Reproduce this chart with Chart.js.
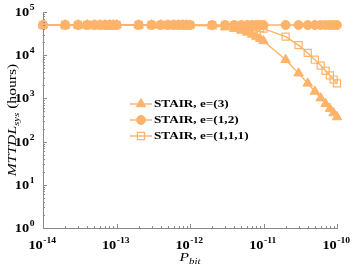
<!DOCTYPE html>
<html>
<head>
<meta charset="utf-8">
<script src="https://cdn.jsdelivr.net/npm/chart.js@4.4.1/dist/chart.umd.min.js"></script>
<style>
  html, body { margin: 0; padding: 0; background: #fff; }
  #wrap { width: 353px; height: 267px; }
</style>
</head>
<body>
<div id="wrap"><canvas id="mttdl" width="353" height="267"></canvas></div>
<script>
// P_bit values (x)
const pBit = [
  1e-14, 2e-14, 3e-14, 4e-14, 5e-14, 6e-14, 7e-14, 8e-14, 9e-14,
  1e-13, 2e-13, 3e-13, 4e-13, 5e-13, 6e-13, 7e-13, 8e-13, 9e-13,
  1e-12, 2e-12, 3e-12, 4e-12, 5e-12, 6e-12, 7e-12, 8e-12, 9e-12,
  1e-11, 2e-11, 3e-11, 4e-11, 5e-11, 6e-11, 7e-11, 8e-11, 9e-11,
  1e-10
];
// MTTDL_sys in hours
const stairE3 = [
  50000, 50000, 50000, 50000, 50000, 50000, 50000, 50000, 50000,
  50000, 50000, 49990, 49990, 49980, 49980, 49970, 49970, 49960,
  49300, 47460, 44600, 41170, 37450, 33730, 30180, 26950, 23980,
  21370, 7860, 3830, 2230, 1450, 1014, 750, 578, 458,
  371
];
const stairE12 = [
  50000, 50000, 50000, 50000, 50000, 50000, 50000, 50000, 50000,
  50000, 50000, 50000, 50000, 50000, 50000, 50000, 50000, 50000,
  50000, 50000, 50000, 50000, 50000, 50000, 50000, 50000, 50000,
  50000, 50000, 50000, 49990, 49990, 49980, 49980, 49970, 49960,
  49950
];
const stairE111 = [
  50000, 50000, 50000, 50000, 50000, 50000, 50000, 50000, 50000,
  50000, 50000, 50000, 50000, 50000, 50000, 50000, 50000, 50000,
  49890, 49580, 49050, 48340, 47460, 46420, 45250, 43980, 42610,
  41190, 26940, 17090, 11300, 7870, 5740, 4360, 3410, 2730,
  2230
];
const seriesNames = ['STAIR, e=(3)', 'STAIR, e=(1,2)', 'STAIR, e=(1,1,1)'];
const xDecades = [-14, -13, -12, -11, -10];
const yDecades = [0, 1, 2, 3, 4, 5];

const orange = 'rgb(253, 180, 106)';
const axisGray = '#8a8a8a';
const serif = '"Liberation Serif", "DejaVu Serif", serif';

function pts(ys) {
  return pBit.map((x, i) => ({x: x, y: ys[i]}));
}

// text stretched horizontally like the original export
function sText(ctx, txt, x, y, sx) {
  ctx.save();
  ctx.translate(x, y);
  ctx.scale(sx, 1);
  ctx.fillText(txt, 0, 0);
  ctx.restore();
  return ctx.measureText(txt).width * sx;
}

function powLabel(ctx, exp, x, y, align) {
  const sx = 1.2;
  ctx.font = 'bold 12px ' + serif;
  const wBase = ctx.measureText('10').width * sx;
  ctx.font = 'bold 8px ' + serif;
  const wExp = ctx.measureText(exp).width * sx;
  let left = x;
  if (align === 'center') left = x - (wBase + wExp) / 2;
  if (align === 'right') left = x - (wBase + wExp);
  ctx.fillStyle = '#000';
  ctx.textBaseline = 'alphabetic';
  ctx.textAlign = 'left';
  ctx.font = 'bold 12px ' + serif;
  sText(ctx, '10', left, y, sx);
  ctx.font = 'bold 8px ' + serif;
  sText(ctx, exp, left + wBase + 0.5, y - 6, sx);
}

const axesPlugin = {
  id: 'axesPlugin',
  afterDraw(chart) {
    const ctx = chart.ctx;
    const xs = chart.scales.x, ys = chart.scales.y;
    const area = chart.chartArea;
    ctx.save();
    ctx.strokeStyle = axisGray;
    ctx.lineWidth = 1;
    // x ticks pointing inwards
    xDecades.forEach(k => {
      for (let m = 1; m <= 9; m++) {
        if (k === -10 && m > 1) break;
        const px = Math.round(xs.getPixelForValue(m * Math.pow(10, k))) + 0.5;
        const len = m === 1 ? 4 : 2;
        ctx.beginPath();
        ctx.moveTo(px, area.bottom);
        ctx.lineTo(px, area.bottom - len);
        ctx.stroke();
      }
    });
    yDecades.forEach(k => {
      for (let m = 1; m <= 9; m++) {
        if (k === 5 && m > 1) break;
        const py = Math.round(ys.getPixelForValue(m * Math.pow(10, k))) + 0.5;
        const len = m === 1 ? 4 : 2;
        ctx.beginPath();
        ctx.moveTo(area.left, py);
        ctx.lineTo(area.left + len, py);
        ctx.stroke();
      }
    });
    // tick labels
    xDecades.forEach(k => {
      const px = xs.getPixelForValue(Math.pow(10, k));
      powLabel(ctx, String(k), px - 1, area.bottom + 21, 'center');
    });
    yDecades.forEach(k => {
      const py = ys.getPixelForValue(Math.pow(10, k));
      powLabel(ctx, String(k), area.left - 9, py + 4, 'right');
    });
    // x title P_bit
    ctx.fillStyle = '#000';
    ctx.textAlign = 'left';
    ctx.font = 'italic 13px ' + serif;
    const cx = (area.left + area.right) / 2;
    const wP = ctx.measureText('P').width * 1.2;
    ctx.font = 'italic 9px ' + serif;
    const wSub = ctx.measureText('bit').width * 1.2;
    let lx = cx - (wP + wSub) / 2;
    ctx.font = 'italic 13px ' + serif;
    sText(ctx, 'P', lx, 261, 1.2);
    ctx.font = 'italic 9px ' + serif;
    sText(ctx, 'bit', lx + wP, 264, 1.2);
    // y title MTTDL_sys (hours)
    const cy = (area.top + area.bottom) / 2;
    ctx.translate(16, cy);
    ctx.rotate(-Math.PI / 2);
    ctx.font = 'italic 13px ' + serif;
    const w1 = ctx.measureText('MTTDL').width * 1.2;
    ctx.font = 'italic 9px ' + serif;
    const w2 = ctx.measureText('sys').width * 1.2;
    ctx.font = '13px ' + serif;
    const w3 = ctx.measureText(' (hours)').width * 1.2;
    let tx = -(w1 + w2 + w3) / 2;
    ctx.font = 'italic 13px ' + serif;
    sText(ctx, 'MTTDL', tx, 0, 1.2);
    ctx.font = 'italic 9px ' + serif;
    sText(ctx, 'sys', tx + w1, 3, 1.2);
    ctx.font = '13px ' + serif;
    sText(ctx, ' (hours)', tx + w1 + w2, 0, 1.2);
    ctx.restore();
  }
};

// legend drawn inside the plot area
const boxLegend = {
  id: 'boxLegend',
  afterDraw(chart) {
    const ctx = chart.ctx;
    const x0 = 130, x1 = 152, y0 = 104, dy = 16;
    ctx.save();
    chart.data.datasets.forEach((ds, i) => {
      const y = y0 + i * dy;
      ctx.strokeStyle = ds.borderColor;
      ctx.lineWidth = ds.borderWidth;
      ctx.beginPath();
      ctx.moveTo(x0, y);
      ctx.lineTo(x1, y);
      ctx.stroke();
      ctx.fillStyle = ds.pointBackgroundColor;
      ctx.strokeStyle = ds.borderColor;
      ctx.lineWidth = ds.pointBorderWidth;
      Chart.helpers.drawPoint(ctx, {
        pointStyle: ds.pointStyle,
        radius: ds.pointRadius,
        rotation: 0,
        borderWidth: ds.pointBorderWidth
      }, (x0 + x1) / 2, y);
      ctx.fillStyle = '#000';
      ctx.textAlign = 'left';
      ctx.textBaseline = 'middle';
      ctx.font = 'bold 11px ' + serif;
      sText(ctx, ds.label, x1 + 2, y + 0.5, 1.2);
    });
    ctx.restore();
  }
};

const hiddenAxis = {
  grid: { display: true, drawOnChartArea: false, drawTicks: false },
  border: { display: true, color: axisGray, width: 1 },
  ticks: { display: false }
};

const config = {
  type: 'line',
  data: {
    datasets: [
      {
        label: seriesNames[0],
        data: pts(stairE3),
        borderColor: orange,
        borderWidth: 1.4,
        pointStyle: 'triangle',
        pointRadius: 5.5,
        pointBackgroundColor: orange,
        pointBorderColor: orange,
        pointBorderWidth: 1,
        clip: false
      },
      {
        label: seriesNames[1],
        data: pts(stairE12),
        borderColor: orange,
        borderWidth: 1.4,
        pointStyle: 'circle',
        pointRadius: 4.5,
        pointBackgroundColor: orange,
        pointBorderColor: orange,
        pointBorderWidth: 1,
        clip: false
      },
      {
        label: seriesNames[2],
        data: pts(stairE111),
        borderColor: orange,
        borderWidth: 1.4,
        pointStyle: 'rect',
        pointRadius: 5,
        pointBackgroundColor: 'rgba(255,255,255,0)',
        pointBorderColor: orange,
        pointBorderWidth: 1.2,
        clip: false
      }
    ]
  },
  options: {
    responsive: false,
    animation: false,
    layout: { padding: { left: 0, top: 12, right: 16, bottom: 0 } },
    plugins: { legend: { display: false }, tooltip: { enabled: false } },
    scales: {
      x: Object.assign({}, hiddenAxis, {
        type: 'logarithmic', min: 1e-14, max: 1e-10,
        afterFit(s) { s.height = 39; }
      }),
      y: Object.assign({}, hiddenAxis, {
        type: 'logarithmic', min: 1, max: 1e5,
        afterFit(s) { s.width = 43; }
      })
    }
  },
  plugins: [axesPlugin, boxLegend]
};

const myChart = new Chart(document.getElementById('mttdl'), config);
</script>
</body>
</html>
